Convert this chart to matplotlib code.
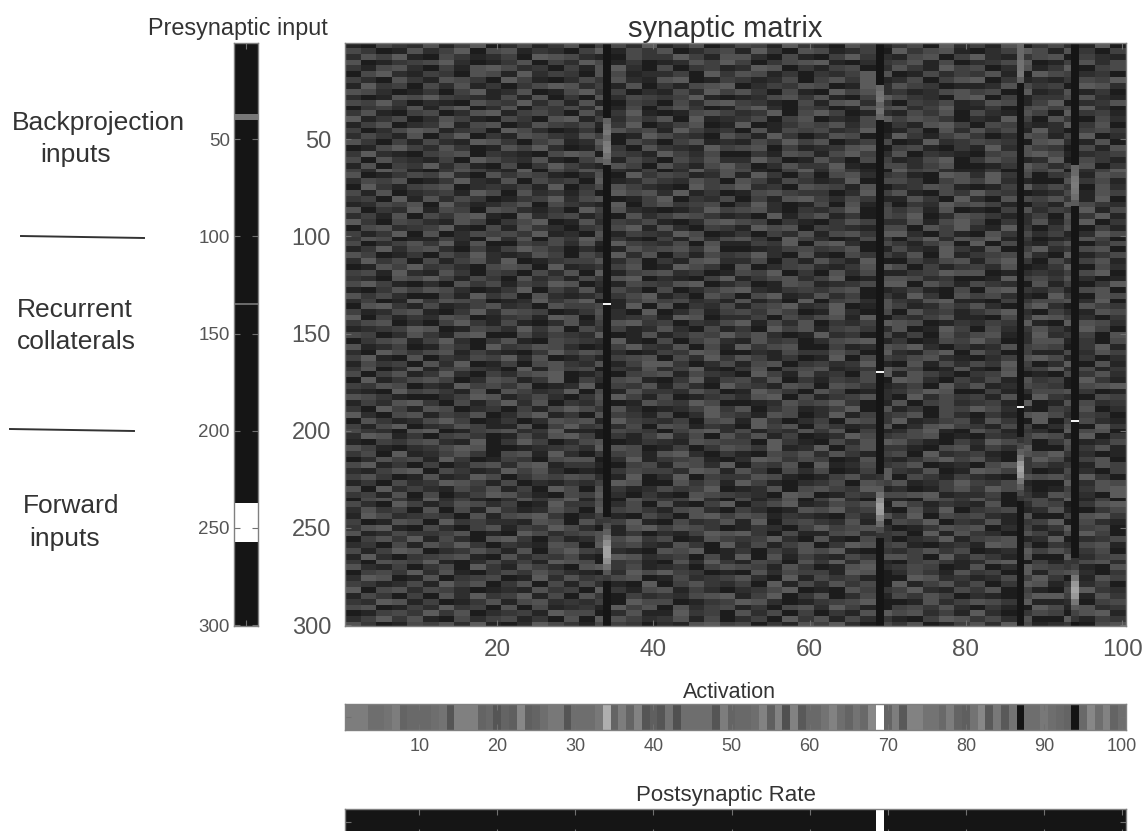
import numpy as np
import matplotlib
matplotlib.use('Agg')
import matplotlib.pyplot as plt
from matplotlib.colors import LinearSegmentedColormap
from matplotlib.lines import Line2D

W, H = 1143, 831
plt.rcParams['font.family'] = ['Liberation Sans', 'DejaVu Sans']

# NOT measured: single cells of the matrix background can't be read from the picture.
# Hand-typed digits that only imitate its look (grey range, short horizontal dashes).
texture = """
1100553322 6611447700 2255113366 0044552277 1133660022 5544117733 2200664411 3355007722 4411660033 5522117700
5533001166 2244770055 6611332200 4477115533 6600224455 1177330066 5511224400 7733556611 0022447755 1166330044
2266447711 0055331122 4400776655 2211005533 3377441166 6622005511 0044773322 1155660044 7722113355 6600442211
6600113344 5577220011 3366004422 7755113300 1122664477 4400335566 7711002233 4466115500 2233557700 1144662255
3311556622 0044116677 5522330044 1166772200 5500334411 2277660033 1144550022 6633117744 5500226611 3377004455
0055772211 4433006655 1177224433 0066551122 2244007733 6655113300 3322447766 0011552244 3366110077 5544223300
4422006633 1166553300 7744110022 5533662211 6677001144 3311225500 4466337711 2255004466 7700331122 1133554477
1177334400 5522661133 0033557766 2244116600 3311556677 0022443366 5500117722 6644330011 1122665533 4400776622
6655220011 3300447711 2266001155 7733440022 1155227744 6633005511 0077446622 3311225566 4455007711 2266113300
2200116655 7744332211 5511660033 0066225544 3344771100 1122556633 6611004477 5533220066 7700441133 3355662211
5544773300 2211006644 3377225511 6611004433 0055226677 4433110055 1166772233 0044335511 2266551144 7700223366
0033442266 1155770022 6600443355 2277115500 4466330011 5577220044 3300116655 6622447711 1133005566 4455772200
3366110044 5500226677 1144553300 6622337711 0011556644 2233770055 7744001122 1155336600 5522116644 0077334411
7711335500 2266441100 5533006677 1144225533 6600771122 3355004466 0022115577 4466553300 2211774400 6633005522
1144660022 3377115566 0022664433 5511337700 2244660011 7700113355 4466225500 3311667744 0055442211 2277336600
4400225577 6611334400 7755220011 3300664455 1177442233 0066115544 5522337700 1144006622 6633551177 2200445533
2255331166 0044770033 1166553322 6644001177 5533220066 4411773300 2266550011 7733114466 3300226655 1144770022
6633004411 5522117766 3300446611 2277005533 0044661122 1155337744 6600224455 0011772233 5544330066 7722116600
0011557744 2266330011 6644772200 1155330066 3322117744 5566004411 2233667700 4455110033 1177226644 3300551166
3377221100 4455660033 2211005577 6600443311 7744225500 0033116655 1155774422 6600332211 0044556677 5511223344
5500663322 1144007755 3322661100 4477115533 0055336622 2277440011 6633005544 1122557700 3366441122 7700553311
1166004433 7722551100 5500337744 2211664400 6633115577 4400226633 3377110055 5522446600 0011337755 2244660033
4422775511 0033664422 1177005533 6655221144 0022773366 5511004477 2266331100 7744552211 1133006644 6600224477
6600113355 4477220066 3355441100 2266007733 5544112266 1177330044 0055662233 4411007766 2277335500 3344116655
2255446600 1133772211 6600553344 0077112255 3322664400 6644115533 1122770055 5533004466 4477221100 0066335511
0077331144 5566002233 2244117700 3355664422 1100774455 7722330066 5544116600 2233665511 0011447733 5533006622
5511660022 3344117755 0066223311 4400775566 2277113300 1155664433 3300227744 6611005533 7744330011 2255116644
3344007711 6622553300 1133447722 5566001144 7700332255 0044116677 4422553311 1166330077 2200665544 6633117700
1122554466 0077331122 4466005533 2211770044 6633445500 3377220011 5500661144 0033227755 6644110033 1177553322
6600332277 1155440066 5522113300 7744662211 0011337744 5566220033 2244770055 3355116600 1100446622 4433771155
2244116600 5533667711 0077224455 1133006622 4466553311 2200771144 6611330055 4477002266 5533112244 0066337711
7733005544 2211664400 3355770011 6622443355 1100226677 5544003311 0033664422 2266115577 4400332266 1155770033
0055662233 4477110055 1166332200 3344557711 6622004433 1177556600 4433221155 5500664477 2211773300 3366004411
4411337700 6600225544 5533771122 0066114433 2277550011 3300442266 1155663377 7722004411 0066335522 4411227755
3366550011 1144220077 2266005533 7755331100 4411662255 6633007744 2200115533 0044772266 5577113300 1122664400
5500224466 3377116600 0044335522 6611774433 2255006611 1144337700 6677220055 3311446600 7700552211 4466003355
1133772255 6622004411 4477553300 2200116644 5566337700 0011224455 3344660011 5522117733 1166004477 2233556600
6644001133 0055337722 1122664400 5533772266 0044115533 4477220066 1100553344 2266007711 3344556622 0077113355
2277335500 5511446622 7700113344 4466225500 3311667722 2255004411 6633117700 0044225566 1155773300 5522446611
0011664477 3344220055 6655007711 2233446600 1177553300 6600224455 2211336677 5500441133 4422660011 3377005522
4455117722 1166330044 3300552266 0077114455 6622330011 5544770033 0066225511 1133447766 6600112233 2244557700
3322006655 7744115533 0066224411 5533667700 2211004477 1133556622 4477001166 6655223300 0011774455 3366220011
5577441100 2200663355 1144337766 0022115544 3366770022 4400116655 1122335577 7700664411 5533220066 1144003377
1100336644 6655220011 3377004422 6611553300 5500224466 7722113344 3355660011 2244110055 0066773322 4411556600
6633552200 0044117733 5500662211 2244335577 1133006644 0055771122 6622440033 1177330066 4455221100 7733006655
2244001177 3366554400 1122773355 7700114466 4455223311 6611330077 0044552266 3322667711 1100443355 5566227700
0066773311 5511224466 2233006644 4455117700 6600332255 1144557722 3377001166 4411225533 6622005577 2200664433
4411225566 1100337722 6655440011 3366220077 0022551144 5533664400 1177220055 0066334411 3355772200 4422116655
7700441133 2266550011 3344117766 0055223344 1177660022 2244005533 5566117700 3322446611 1100553377 6644220033
3355660022 0044773311 5511002266 1144667733 4400332255 7711552266 0033224477 6655001133 2244337711 0077665522
1122334477 6600115544 2277336600 5533441122 6622005511 3300774466 1144553322 6600117744 0055223366 3311774400
5544002266 3311667700 0055224433 2277001166 1133554477 4466220011 7722330055 1144006633 5566112277 2233440066
0033556611 4477220033 6611005544 3322771100 5500446622 1166334400 2255667711 3300115544 7744002266 6611330055
6611224400 1155330077 3344665522 0011447733 2266005511 7733556600 0044112266 5577220033 1122664455 4400337711
2200775533 5566114422 1100337744 6655220011 4433776600 0022115533 3366440077 2211557700 6633004411 1155226644
4477110066 0033225544 7722660011 3311445566 0055227733 6644113300 1177005544 3355662211 0022446677 5511330022
1155334400 6622770011 4400556633 2266114477 7733002255 1155660033 4422337711 0066115522 5533774400 2277006611
3366002277 1144553322 0077116644 5500332266 2244771100 3366004455 6611223377 5544001166 1100663344 7722551133
5500446611 3377220044 2255667700 1133004455 6611553322 0077441166 2233005577 1166442200 3344770011 0055336622
0077113355 6644002266 5511337700 4422556611 0033771144 5522660033 1144335500 7766220044 2255116633 4400773311
4433665500 2211774455 3366001122 7700443366 1155220077 4433116655 0066553311 2244007733 6611225544 3300556677
2211007744 5533116600 6644223377 0055116633 3322664400 1177553300 6644001122 3355776600 0044112255 5566330011
6655331100 0022447766 1133552200 3366774411 5500113344 2266770055 1133446622 0077225533 4411660077 3322005544
1144226677 3300551144 7722660033 2255001166 4433775500 0011226644 5577330011 6600445522 3344117700 1166552233
3300774411 6655002233 0044115577 5533662200 1122447733 6600335511 2244770066 1133005544 7755221100 4433660022
7722005566 1144336600 2255771133 0066443311 5500227744 3311665500 2277114433 4466005522 0033116677 5522443300
0066331122 5577440011 3300226655 6611774433 2244005566 1177330022 4400665533 7711224455 1166330077 0044552211
4411557700 2233664411 1166004477 3344225500 6655113322 0077446600 5533112266 0022667744 3311554400 2266007733
5533220066 7700114455 6622337711 1100554433 0044667722 5511332266 3366004411 2255771100 6644113322 0077556600
2277661133 0044553300 1155226677 4400331144 7722550066 3366114400 1122775533 4455660011 0033224466 5511770033
1100443355 6622117700 3377440022 5566001133 2211665544 4400773311 0055226677 6633110044 2277554400 3366112255
6644110022 3355776600 0011223344 2277665500 1144003366 5533771122 7700446633 3311005566 1144227700 0055336611
3355007711 2244663300 5566117722 0033445511 6677220033 1100554466 2266331144 5500772233 4411006655 7733220011
0022664455 1177330011 4433005566 6600227711 3344551100 2277663355 4400116622 1133557744 6622003377 5511446600
5577113300 4400225566 2266771133 3311004455 1166552277 0044336600 7711225533 4466001122 0055773344 2233116644
2211446677 0055331122 7744662200 1100335544 4422776611 6633005522 5500114477 3322660011 7766443300 1155220044
4466330011 6611227755 0033554466 5522117700 2277004433 3366551100 1144662277 0055331144 2211006655 6644773300
1133005522 3377664411 5500221133 2244776600 0066335511 7744110022 3355006644 6611224477 4433551100 0077226655
6600772244 2211553366 1144007755 0066331122 5533447700 1122660055 6644337711 2200114466 3377552200 1144336677
3344116600 5500224477 6633110055 4477220033 1100665544 3322007766 0011443355 5566771122 2244003311 6655220077
0055663311 7722441100 2266335577 1155006644 3344772200 5511336600 4477220011 1100665533 6633004455 2277114400
5522007744 1133665522 4400117733 3366225500 6611004477 0033557711 2255446600 7744113322 1166002255 4400336677
2266334400 6600551177 3311226644 0077445533 1155662200 4422001166 5577334411 0066227700 3344551122 6611003355
1177552233 4433006611 5566773300 2244110055 3300667744 6655113322 1100442266 3377005544 5522116600 0044667733
4400116655 0077334422 2211665500 6633447711 0055223366 1177004455 3322661100 5544770033 2266113344 7700552211
3366771100 5522004466 1144337755 2200116677 4466553300 1133220044 7744556622 0011336655 6600224411 3377445500
6611225533 3344660011 0077552244 5566113300 2211447766 7733005511 1155662233 4400771166 3322006644 1155774400
0044663377 1155220066 7733004411 2266557733 5500116644 3344772200 6611005533 0022337711 4455661122 7700223355
2233005511 6644773300 3322116655 0077445522 1166330077 2255114466 0033776644 5511002233 1177664400 3322556611
5511447766 0022336644 1166005577 4433221100 6655770011 3300442266 5577110033 2244663355 0011227744 6644335500
1177220033 4455661100 6622443355 1100776622 3344005511 7700661144 2211553366 6644007722 5533116600 0077224455
3300665544 7711002255 2244117766 5500334411 0066227733 1155440066 3377226611 0044553311 2266770044 1133556622
6622114400 3355007733 1166442200 6677335511 2233004466 5544116633 0011667722 3355440011 6600227755 4433110066
0044553377 2266110033 5533664422 1100227755 7744330011 0066225544 4411776600 2255331166 3344007711 5566220033
2277660011 6600334455 0011772266 3344556600 1155223344 6622007711 5533441100 0077662233 1122554477 3300116644
4433112255 1177446600 3366005511 5522110077 0044663322 4400771155 2266335500 7711446622 5500337766 1133224400
7700556622 5544220011 2211663344 0077331155 6611442200 2233557700 1100664433 4477221155 3366004411 0055773322
1155330044 0066227733 4477115500 6633004422 3322556677 1144770033 6600225511 5533664400 2211005577 7744116633
3322776611 4400113366 1155662233 2244007755 5500113344 7766220011 3344557700 0011662244 6655337711 1122004455
5566001144 2277334400 6600551122 3311774466 0066224455 1133005566 2277441100 4455336622 0033110077 5511662233
0011445533 7733660022 3344117755 5500226611 1177334400 6622550044 0033116677 5566224411 7722003355 4400667711
2244773366 1100552244 5511330066 0077664422 3366115500 2244007733 6611552233 1100447766 3355226600 0077114433
6633001155 4466227711 0022775533 1155443300 2211667744 5500331166 4477220055 3366001144 6622775511 2233005566
"""

postsyn_cols = [34, 69, 87, 94]

# bright stretches in the four dark columns, one value per 3 rows
col34_a_start, col34_a = 39, [.33, .38, .42, .36, .44, .46, .40, .34]
col34_b_start, col34_b = 244, [.16, .24, .32, .42, .52, .60, .60, .52, .40, .28, .16]
col69_a_start, col69_a = 22, [.36, .40, .42, .34, .40, .34]
col69_b_start, col69_b = 222, [.14, .22, .30, .40, .52, .60, .58, .46, .36, .24, .14]
col87_a_start, col87_a = 0, [.36, .36, .36, .40, .40, .42, .32]
col87_b_start, col87_b = 203, [.14, .22, .32, .42, .56, .62, .56, .42, .32, .22, .14]
col94_a_start, col94_a = 63, [.34, .36, .42, .44, .42, .38, .30]
col94_b_start, col94_b = 265, [.14, .20, .30, .42, .56, .62, .56, .42, .30, .20, .14]
white_rows = [134, 169, 187, 194]

# presynaptic input
pre_grey_rows = [37, 38, 39, 134]
pre_grey_vals = [.42, .42, .42, .36]
pre_white_from, pre_white_to = 237, 257

# activation, read as grey levels 0-255 from left to right
activation = [125, 125, 125, 110, 110, 115, 125, 100, 105, 105,
              105, 110, 115, 85, 128, 128, 128, 100, 105, 85,
              100, 95, 135, 95, 100, 110, 120, 120, 85, 110,
              110, 110, 120, 175, 100, 125, 100, 130, 85, 95,
              85, 115, 80, 110, 110, 110, 110, 85, 125, 100,
              105, 105, 110, 130, 95, 130, 80, 130, 90, 105,
              105, 115, 130, 110, 100, 115, 105, 135, 255, 100,
              125, 90, 130, 130, 115, 115, 105, 125, 100, 95,
              115, 135, 90, 120, 90, 115, 20, 110, 110, 120,
              110, 105, 100, 20, 105, 135, 110, 130, 100, 110]

postsyn_rate = [0.0] * 100
postsyn_rate[68] = 1.0

cmap = LinearSegmentedColormap.from_list('grey_floor', ['#151515', '#ffffff'])


def build_matrix():
    rows = [line.replace(' ', '') for line in texture.strip().splitlines()]
    base = np.array([[int(c) for c in r[:100].ljust(100, '3')] for r in rows])
    # stretch the lines over the 300 rows
    idx = np.arange(300) * len(rows) // 300
    m = (base[idx] * 9 + 8) / 235
    stretches = [(34, col34_a_start, col34_a), (34, col34_b_start, col34_b),
                 (69, col69_a_start, col69_a), (69, col69_b_start, col69_b),
                 (87, col87_a_start, col87_a), (87, col87_b_start, col87_b),
                 (94, col94_a_start, col94_a), (94, col94_b_start, col94_b)]
    for c in postsyn_cols:
        m[:, c - 1] = 0
    for c, start, vals in stretches:
        block = np.repeat(vals, 3)
        m[start:start + len(block), c - 1] = block
    for c, r in zip(postsyn_cols, white_rows):
        m[r, c - 1] = 0.95
    return m


def pixel_axes(fig, left, top, right, bottom):
    return fig.add_axes([left / W, 1 - bottom / H, (right - left) / W, (bottom - top) / H])


def style(ax, size):
    for s in ax.spines.values():
        s.set_color('#808080')
        s.set_linewidth(1.0)
    ax.tick_params(direction='in', length=4, width=0.8, color='#707070',
                   labelcolor='#555555', labelsize=size, top=True, right=True, pad=6)


fig = plt.figure(figsize=(W / 100, H / 100), dpi=100)

# main matrix
ax = pixel_axes(fig, 345, 43, 1126, 626)
ax.imshow(build_matrix(), cmap=cmap, vmin=0, vmax=1, aspect='auto', interpolation='nearest',
          extent=[0.5, 100.5, 300.5, 0.5])
ax.set_xticks([20, 40, 60, 80, 100])
ax.set_yticks([50, 100, 150, 200, 250, 300])
style(ax, 17)
ax.tick_params(axis='x', labelsize=17.5, pad=9)
ax.tick_params(axis='y', pad=10)
fig.text(725 / W, 1 - 29 / H, 'synaptic matrix', fontsize=21, color='#333333', ha='center', va='center')

# presynaptic input column
pre = np.zeros((300, 1))
pre[pre_grey_rows, 0] = pre_grey_vals
pre[pre_white_from:pre_white_to, 0] = 1
ax_pre = pixel_axes(fig, 234, 43, 258, 626)
ax_pre.imshow(pre, cmap=cmap, vmin=0, vmax=1, aspect='auto', interpolation='nearest',
              extent=[0.5, 1.5, 300.5, 0.5])
ax_pre.set_xticks([1])
ax_pre.set_xticklabels([])
ax_pre.set_yticks([50, 100, 150, 200, 250, 300])
style(ax_pre, 13.5)
ax_pre.tick_params(axis='y', pad=3)
fig.text(238 / W, 1 - 29 / H, 'Presynaptic input', fontsize=16.8, color='#333333',
         ha='center', va='center')

# activation strip
ax_act = pixel_axes(fig, 345, 704, 1126, 730)
ax_act.imshow(np.array(activation, dtype=float)[None, :] / 255, cmap='gray', vmin=0, vmax=1,
              aspect='auto', interpolation='nearest', extent=[0.5, 100.5, 1.5, 0.5])
ax_act.set_xticks(range(10, 101, 10))
ax_act.set_yticks([1])
ax_act.set_yticklabels([])
style(ax_act, 13)
fig.text(729 / W, 1 - 693 / H, 'Activation', fontsize=15.5, color='#333333', ha='center', va='center')

# postsynaptic rate strip, runs off the bottom of the figure in the original
ax_rate = pixel_axes(fig, 345, 809, 1126, 835)
ax_rate.imshow(np.array(postsyn_rate)[None, :], cmap=cmap, vmin=0, vmax=1,
               aspect='auto', interpolation='nearest', extent=[0.5, 100.5, 1.5, 0.5])
ax_rate.set_xticks(range(10, 101, 10))
ax_rate.set_xticklabels([])
ax_rate.set_yticks([1])
ax_rate.set_yticklabels([])
style(ax_rate, 13)
fig.text(726 / W, 1 - 795 / H, 'Postsynaptic Rate', fontsize=16, color='#333333', ha='center', va='center')

# hand annotations on the left
labels = [('Backprojection', 98, 123), ('inputs', 76, 155), ('Recurrent', 75, 310),
          ('collaterals', 76, 342), ('Forward', 71, 506), ('inputs', 65, 539)]
for txt, x, y in labels:
    fig.text(x / W, 1 - y / H, txt, fontsize=19, color='#333333', ha='center', va='center')

for x0, y0, x1, y1 in [(21, 236, 144, 238), (10, 429, 134, 431)]:
    fig.add_artist(Line2D([x0 / W, x1 / W], [1 - y0 / H, 1 - y1 / H], color='#333333', lw=1.4))

fig.savefig('out.png', dpi=100)
